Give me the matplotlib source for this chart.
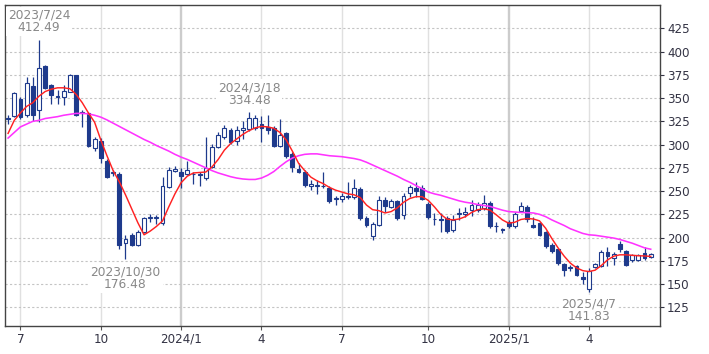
import pandas as pd
import matplotlib
matplotlib.use("Agg")
from matplotlib import pyplot as plt

# weekly candles, first week 2023-06-19
start_week = "2023-06-19"
opens = [329, 331, 349.5, 331.6, 362.7, 337, 384.6, 364.5, 352.5, 351.3,
         356.7, 374.6, 334, 333.4, 296.6, 303.7, 282.3, 269, 268, 194,
         203, 192.5, 206.5, 221.5, 221, 215.5, 254, 272, 271, 268.5,
         268, 267.5, 264, 276, 297, 308, 316, 304, 316, 317,
         318, 322, 319, 318, 298, 312, 290, 274, 271, 255.5,
         256, 256, 253, 242, 242, 245, 244, 252, 221, 202,
         214, 240, 233, 239, 224, 248, 253, 253, 236, 220,
         220, 221, 208, 225, 225, 230, 230, 231.5, 237, 213,
         208.5, 217, 212, 229, 233, 214, 216, 206, 192, 187.5,
         172, 167, 170, 158, 145, 168, 170, 184, 178, 193,
         185.5, 175.5, 176, 183, 179]
highs = [331.6, 357, 351, 372.8, 372.8, 412.49, 386, 365.6, 358.5, 363.8,
         376.3, 375.3, 337, 334.5, 308.4, 306.6, 284, 273, 270, 203,
         205, 208, 222, 225.4, 224.4, 265.5, 276, 277, 274.5, 282.5,
         270, 270, 308, 301, 313.8, 321, 318, 320, 325, 334.48,
         332, 331, 332, 320, 328, 314, 292, 280, 273, 262,
         262, 271, 255, 245, 247.6, 260, 263, 254, 223, 217,
         245, 244, 241, 240.5, 247.6, 256.6, 260, 256.6, 238, 226,
         226, 223, 224.4, 231.5, 233, 240.5, 238, 246, 239, 217,
         210.5, 219, 228, 238, 235, 222, 217, 207, 194, 188,
         173, 170.7, 171, 163, 167, 173, 186.8, 190, 184, 196,
         187, 182.5, 182, 189.7, 183.5]
lows = [322, 329.9, 328, 330, 325, 324.5, 359.5, 344, 343.4, 342.4,
        356, 330.9, 319, 297.6, 293, 280, 263.7, 266, 187.5, 176.48,
        190.5, 190.5, 205, 217, 215, 213.6, 253, 271, 253, 267,
        257.6, 255.5, 262, 274.5, 296, 306, 301, 300, 306, 315,
        316, 303, 311, 297, 297, 286, 270.8, 269, 254, 251,
        247, 253, 237, 235, 238.7, 242, 242, 219, 211, 197.5,
        212, 228, 231.5, 219, 219.8, 244, 244, 240.5, 220, 213.5,
        206.5, 205, 206.5, 219, 222.6, 223, 228, 229.7, 210, 206,
        205, 210, 210, 228, 217, 210, 202, 189, 183, 170.7,
        159, 163.6, 159, 150, 141.83, 167, 168.2, 170, 171, 185,
        169, 174, 174.5, 176, 178.5]
closes = [327, 355, 330, 366.7, 331.6, 382, 361, 353, 351.5, 357.4,
          375.3, 331.6, 334.8, 298.7, 305.9, 285.9, 265.5, 270, 192, 198,
          192.5, 206.5, 220.8, 222, 221.5, 255.5, 272.6, 274, 266.5, 272.5,
          268.8, 267, 274.4, 297.5, 310, 318, 303, 316, 317.5, 328.5,
          329, 318, 315.6, 298.4, 310, 288, 276, 271, 256.5, 258,
          257, 255, 239, 242.5, 245, 243.5, 253, 221, 214, 215,
          240, 234, 239, 221, 245, 254, 250, 242, 222, 219.5,
          219, 207, 219, 226, 228, 235, 235, 237, 212, 212,
          208, 212, 225, 234, 220, 211.5, 203, 190.5, 186, 173,
          165.5, 167.5, 160, 156, 164, 172, 185, 180.5, 182, 187.5,
          171, 181.5, 181, 178, 182.5]

# moving averages (13 and 26 weeks)
ma13 = [312, 326, 334, 341, 345, 352, 357, 359.5, 361, 361,
        360, 354, 345, 334, 324, 305, 288, 272, 260, 246,
        231, 216, 203, 207, 212, 218, 233, 247, 259, 266,
        269.5, 270, 270.5, 276, 284, 294, 301, 306, 311, 315,
        318, 319.5, 319, 317.5, 313, 305, 293, 280, 272, 265,
        261, 258, 254, 251, 249, 247, 246, 243, 235, 230,
        229, 226.5, 228, 232, 238, 242, 244, 244, 240, 233,
        225, 220, 219, 220, 222.5, 227, 230, 231, 229.5, 224.5,
        219, 215.5, 216.5, 219.5, 220.5, 220, 218, 210, 199, 189,
        180, 172.5, 167.5, 164.5, 163.5, 165, 170, 176, 180, 181.5,
        181.5, 181, 180.5, 180.3, 179.8]
ma26 = [307, 313, 319, 322, 325, 326, 328, 329, 330, 331.5,
        332.5, 333.5, 333.5, 333, 331.5, 329.5, 326.5, 323, 319.5, 316,
        312.5, 309, 305.5, 302.5, 299, 296, 293, 289.5, 286.5, 284,
        281, 278, 275, 272, 269.5, 267.5, 265.5, 264, 263, 262.5,
        262.5, 264, 267, 271, 276.5, 281.5, 285.5, 288, 289.5, 290,
        290, 289, 288, 287.5, 287, 286, 285, 283.5, 281, 278,
        275, 272, 269, 266, 262.5, 259.5, 256, 252.5, 249, 247,
        245.5, 243.5, 241.5, 239.5, 238, 237, 235.5, 234.5, 233.5, 231.5,
        229.5, 228, 227.5, 227, 226.8, 226.5, 225, 222.5, 219, 216,
        213, 209.5, 207, 204.5, 203, 202.5, 201.5, 200.5, 199.5, 198,
        196, 194, 191.5, 189, 187.5]

tick_dates = ["2023-07-03", "2023-10-02", "2024-01-01", "2024-04-01",
              "2024-07-01", "2024-10-07", "2025-01-06", "2025-04-07"]
tick_labels = ["7", "10", "2024/1", "4", "7", "10", "2025/1", "4"]

# (week, price, label, above?)
notes = [("2023-07-24", 412.49, "2023/7/24\n412.49", True),
         ("2023-10-30", 176.48, "2023/10/30\n176.48", False),
         ("2024-03-18", 334.48, "2024/3/18\n334.48", True),
         ("2025-04-07", 141.83, "2025/4/7\n141.83", False)]

df = pd.DataFrame({"open": opens, "high": highs, "low": lows, "close": closes},
                  index=pd.date_range(start_week, periods=len(opens), freq="W-MON"))
x = list(range(len(df)))

navy = "#1e3a8c"
fig = plt.figure(figsize=(7.09, 3.54), dpi=100)
ax = fig.add_axes([5 / 709, 28 / 354, 655 / 709, 321 / 354])

# grid
ticks = [df.index.get_loc(pd.Timestamp(d)) for d in tick_dates]
for t, lab in zip(ticks, tick_labels):
    if "/" in lab:
        ax.axvline(t, color="#cccccc", lw=1.7, zorder=0)
    else:
        ax.axvline(t, color="#e0e0e0", lw=1.0, zorder=0)
ax.yaxis.grid(True, linestyle=(0, (2, 2)), color="#c4c4c4", lw=0.8, zorder=0)
ax.set_axisbelow(True)

# candles
ax.vlines(x, df["low"], df["high"], color=navy, lw=0.9, zorder=2)
up = df["close"] >= df["open"]
body = (df["close"] - df["open"]).abs().clip(lower=0.9)
bottom = df[["open", "close"]].min(axis=1)
ax.bar(x, body, bottom=bottom, width=0.62,
       color=["white" if u else navy for u in up],
       edgecolor=navy, linewidth=0.8, zorder=3)

# moving averages
ax.plot(x, ma26, color="#ff33ff", lw=1.15, zorder=4)
ax.plot(x, ma13, color="#ff2222", lw=1.05, zorder=4)

# high / low notes
for d, v, txt, above in notes:
    i = df.index.get_loc(pd.Timestamp(d))
    ax.annotate(txt, (i, v), xytext=(0, 4 if above else -4), textcoords="offset points",
                ha="center", va="bottom" if above else "top", fontsize=8.8,
                color="#888888", linespacing=0.95, zorder=6,
                bbox=dict(fc="white", ec="none", pad=1.5))

ax.set_xlim(-0.5, len(df) + 0.5)
ax.set_ylim(105, 450)
ax.set_yticks(range(125, 426, 25))
ax.yaxis.tick_right()
ax.set_xticks(ticks)
ax.set_xticklabels(tick_labels)
ax.tick_params(axis="both", labelsize=8.6, colors="#333344", length=3, width=0.8, pad=2)
ax.tick_params(axis="x", colors="#555555", labelcolor="#333344")

for s in ax.spines.values():
    s.set_color("#444444")
    s.set_linewidth(1.0)

fig.savefig("out.png", dpi=100)
